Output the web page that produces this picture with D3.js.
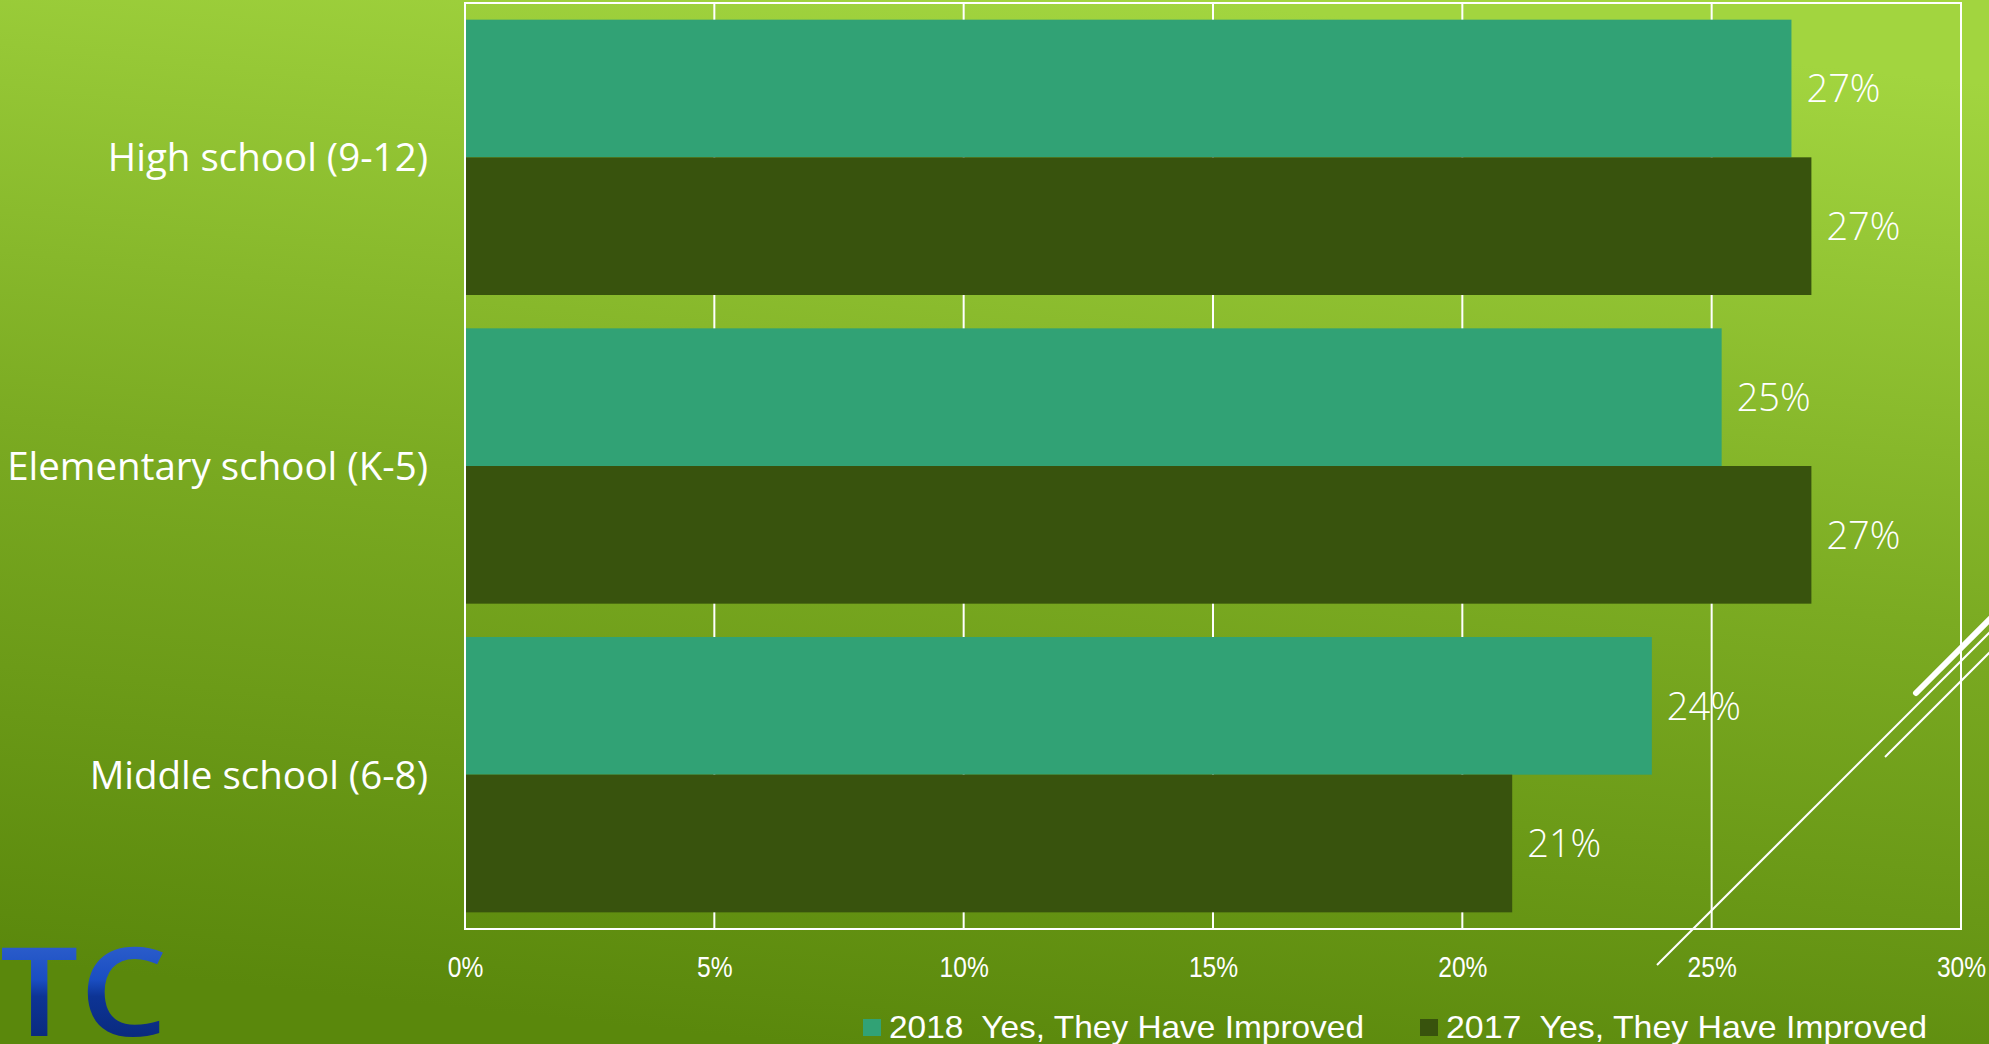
<!DOCTYPE html>
<html><head><meta charset="utf-8">
<script src="https://cdn.jsdelivr.net/npm/d3@7"></script>
<style>html,body{margin:0;padding:0;overflow:hidden;background:#7aaa22}</style>
</head><body>
<svg id="chart" width="1989" height="1044"></svg>
<script>
const categories = ["High school (9-12)", "Elementary school (K-5)", "Middle school (6-8)"];
const seriesNames = ["2018  Yes, They Have Improved", "2017  Yes, They Have Improved"];
const values2018 = [26.6, 25.2, 23.8];
const values2017 = [27.0, 27.0, 21.0];
const labels2018 = ["27%", "25%", "24%"];
const labels2017 = ["27%", "27%", "21%"];
const xTicks = [0, 5, 10, 15, 20, 25, 30];
const colors = ["#31a275", "#38530d"];

const W = 1989, H = 1044;
const svg = d3.select("#chart");
const defs = svg.append("defs");
const bg = defs.append("linearGradient").attr("id","bg").attr("x1","0.6").attr("y1","0").attr("x2","0.4").attr("y2","1");
bg.append("stop").attr("offset","0").attr("stop-color","#a2d53f");
bg.append("stop").attr("offset","0.5").attr("stop-color","#7bab22");
bg.append("stop").attr("offset","1").attr("stop-color","#5a880c");
svg.append("rect").attr("width",W).attr("height",H).attr("fill","url(#bg)");

const m = {left:465, right:1961, top:3, bottom:929};
const x = d3.scaleLinear().domain([0,30]).range([m.left, m.right]);
const y = d3.scaleBand().domain(categories).range([m.top, m.bottom]).paddingInner(0.108).paddingOuter(0.054);
const y1 = d3.scaleBand().domain([0,1]).range([0, y.bandwidth()]);

// gridlines
svg.append("g").selectAll("line").data(xTicks.slice(1,-1)).join("line")
  .attr("x1", d=>x(d)).attr("x2", d=>x(d)).attr("y1", m.top).attr("y2", m.bottom)
  .attr("stroke","#fff").attr("stroke-width",2);

const data = categories.map((c,i)=>({c, v:[values2018[i], values2017[i]], l:[labels2018[i], labels2017[i]]}));
const g = svg.append("g").selectAll("g").data(data).join("g")
  .attr("transform", d=>`translate(0,${y(d.c)})`);
g.selectAll("rect").data(d=>d.v.map((v,k)=>({v,k}))).join("rect")
  .attr("x", x(0)).attr("y", d=>y1(d.k)).attr("width", d=>x(d.v)-x(0)).attr("height", y1.bandwidth())
  .attr("fill", d=>colors[d.k]);
g.selectAll("text").data(d=>d.v.map((v,k)=>({v,k,l:d.l[k]}))).join("text")
  .attr("x", d=>x(d.v)+15).attr("y", d=>y1(d.k)+y1.bandwidth()/2)
  .attr("dy","0.36em").attr("fill","#fff")
  .style("font-family","'Open Sans', sans-serif").style("font-weight",300).style("font-size","38px")
  .text(d=>d.l);

// plot border
svg.append("rect").attr("x",m.left).attr("y",m.top).attr("width",m.right-m.left).attr("height",m.bottom-m.top)
  .attr("fill","none").attr("stroke","#fff").attr("stroke-width",2);

// y labels
svg.append("g").selectAll("text").data(categories).join("text")
  .attr("x", 428).attr("y", d=>y(d)+y.bandwidth()/2).attr("dy","0.36em")
  .attr("text-anchor","end").attr("fill","#fff")
  .style("font-family","'Open Sans', sans-serif").style("font-size","38.5px")
  .text(d=>d);

// x axis
const xAxis = d3.axisBottom(x).tickValues(xTicks).tickFormat(d=>d+"%").tickSize(0).tickPadding(0);
const ax = svg.append("g").attr("transform",`translate(0,${m.bottom})`).call(xAxis);
ax.select(".domain").remove();
ax.selectAll("text").attr("y", 48).attr("dy",0).attr("fill","#fff")
  .attr("transform","scale(0.82,1)")
  .style("font-family","'Liberation Sans',sans-serif").style("font-size","30px");

// legend
const legX = [863, 1420];
const legW = [475, 481];
const leg = svg.append("g").selectAll("g").data(seriesNames).join("g");
leg.append("rect").attr("x",(d,i)=>legX[i]).attr("y",1019).attr("width",18).attr("height",17).attr("fill",(d,i)=>colors[i]);
leg.append("text").attr("x",(d,i)=>legX[i]+26).attr("y",1038).attr("fill","#fff")
  .attr("xml:space","preserve").style("white-space","pre")
  .attr("textLength",(d,i)=>legW[i]).attr("lengthAdjust","spacingAndGlyphs")
  .style("font-family","'Liberation Sans',sans-serif").style("font-size","32px")
  .text(d=>d);

// decorative lines
const deco = svg.append("g").attr("stroke","#fff").attr("fill","none");
deco.append("line").attr("x1",1657).attr("y1",965).attr("x2",1995).attr("y2",627).attr("stroke-width",2);
deco.append("line").attr("x1",1885).attr("y1",757).attr("x2",1995).attr("y2",647).attr("stroke-width",2);
deco.append("line").attr("x1",1916).attr("y1",693).attr("x2",1995).attr("y2",614).attr("stroke-width",6).attr("stroke-linecap","round");

// logo
const lg = defs.append("linearGradient").attr("id","logo").attr("x1","0").attr("y1","0").attr("x2","0").attr("y2","1");
lg.append("stop").attr("offset","0").attr("stop-color","#3f6fd6");
lg.append("stop").attr("offset","0.45").attr("stop-color","#1a4ec2");
lg.append("stop").attr("offset","0.55").attr("stop-color","#0d3495");
lg.append("stop").attr("offset","1").attr("stop-color","#07226b");
svg.append("text").attr("transform","translate(0,1036) scale(1.12,1)").attr("fill","url(#logo)")
  .style("font-family","'Open Sans', sans-serif").style("font-weight",600).style("font-size","124px")
  .style("letter-spacing","1px")
  .text("TC");
</script>
</body></html>
